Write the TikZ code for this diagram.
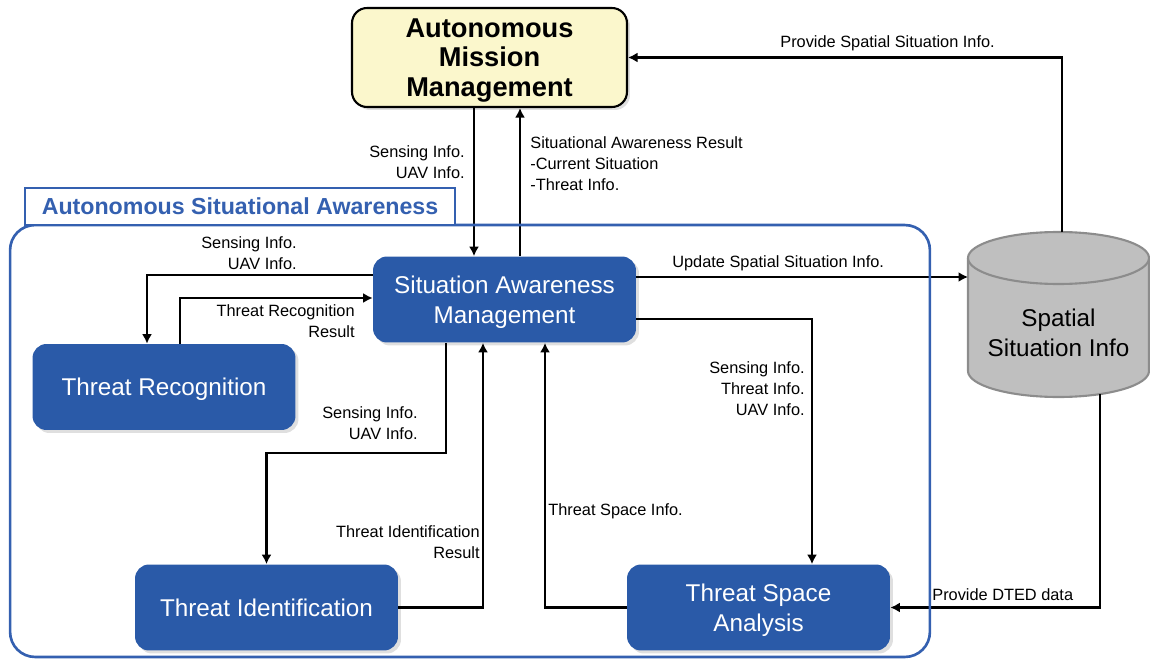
\documentclass[tikz,border=0pt]{standalone}
\usepackage{fontspec}
\setmainfont{Liberation Sans}
\usetikzlibrary{arrows.meta, calc, positioning, shadows}

\definecolor{boxblue}{RGB}{42,90,168}
\definecolor{frameblue}{RGB}{52,96,176}
\definecolor{mgryellow}{RGB}{251,247,204}
\definecolor{dbgray}{RGB}{191,191,191}
\definecolor{dbedge}{RGB}{140,140,140}

\begin{document}
\begin{tikzpicture}
[
	x=0.02cm, y=-0.02cm, >={Latex[length=1.9mm,width=2mm]},
	blk/.style={rectangle,rounded corners=0.28cm,fill=boxblue,text=white,minimum width=5.26cm,minimum height=1.72cm,text depth=0pt,align=center,font=\fontsize{13.8}{17}\selectfont,drop shadow={opacity=0.25,shadow xshift=0.06cm,shadow yshift=-0.06cm}},
	mgr/.style={rectangle,rounded corners=0.3cm,draw,line width=1.2pt,fill=mgryellow,minimum width=5.5cm,minimum height=1.98cm,text depth=-2.8pt,align=center,font=\bfseries\fontsize{15.5}{16.7}\selectfont,drop shadow={opacity=0.25,shadow xshift=0.06cm,shadow yshift=-0.06cm}},
	lbl/.style={inner sep=0,font=\fontsize{9.3}{11.9}\selectfont},
	link/.style={line width=1.3pt,->}
]
\useasboundingbox (0,0) rectangle (1150,659);

% managers and function blocks
\node[mgr] (amm) at (489.5,57.5) {Autonomous\\Mission\\Management};
\node[blk] (sam) at (504.5,299.5) {Situation Awareness\\Management};
\node[blk] (tr) at (164,387) {Threat Recognition};
\node[blk] (ti) at (266.5,607.5) {Threat Identification};
\node[blk] (tsa) at (758.5,607.5) {Threat Space\\Analysis};

% spatial situation database
\filldraw[fill=dbgray,draw=dbedge,line width=1.2pt] (968,258) -- (968,371) arc[start angle=180,end angle=0,x radius=90.5,y radius=26] -- (1149,258);
\filldraw[fill=dbgray,draw=dbedge,line width=1.2pt] (1058.5,258) ellipse[x radius=90.5,y radius=26];
\node[align=center,font=\fontsize{13.8}{17}\selectfont] (db) at (1058.5,333) {Spatial\\Situation Info};
\coordinate (dbtop) at (1062,232);
\coordinate (dbin) at (968,277);
\coordinate (dbout) at (1100,394);

% connectors
\draw[link] (amm.south -| 474,0) -- (sam.north -| 474,0);
\draw[link] (sam.north -| 520,0) -- (amm.south -| 520,0);
\draw[link] (dbtop) |- (amm.east);
\draw[link] (sam.east |- dbin) -- (dbin);
\draw[link] (sam.west |- 0,275) -| (tr.north -| 147,0);
\draw[link] (tr.north -| 180,0) |- (sam.west |- 0,298);
\draw[link] (sam.south -| 446,0) -- ++(0,110) -| (ti.north);
\draw[link] (ti.east) -| (sam.south -| 483,0);
\draw[link] (tsa.west) -| (sam.south -| 545,0);
\draw[link] (sam.east |- 0,319) -| (tsa.north -| 812,0);
\draw[link] (dbout) |- (tsa.east);

% connector labels
\node[lbl,anchor=east,align=right] (l1) at (465,162) {Sensing Info.\\UAV Info.};
\node[lbl,anchor=west,align=left] (l2) at (530,163.5) {Situational Awareness Result\\-Current Situation\\-Threat Info.};
\node[lbl,anchor=west] (l3) at (780,43) {Provide Spatial Situation Info.};
\node[lbl,anchor=west] (l4) at (672,263) {Update Spatial Situation Info.};
\node[lbl,anchor=east,align=right] (l5) at (297,253) {Sensing Info.\\UAV Info.};
\node[lbl,anchor=east,align=right] (l6) at (355,321) {Threat Recognition\\Result};
\node[lbl,anchor=east,align=right] (l7) at (418,423.5) {Sensing Info.\\UAV Info.};
\node[lbl,anchor=east,align=right] (l8) at (480,542.5) {Threat Identification\\Result};
\node[lbl,anchor=west] (l9) at (548,511) {Threat Space Info.};
\node[lbl,anchor=east,align=right] (l10) at (805,388.5) {Sensing Info.\\Threat Info.\\UAV Info.};
\node[lbl,anchor=west] (l11) at (932,595) {Provide DTED data};

% awareness frame and its title
\node[draw=frameblue,line width=1.5pt,rounded corners=0.5cm,minimum width=18.4cm,minimum height=8.64cm] (frame) at (470,441) {};
\node[draw=frameblue,fill=white,line width=1.5pt,minimum width=8.6cm,minimum height=0.74cm,text=frameblue,font=\bfseries\fontsize{13.2}{15}\selectfont] (title) at (240,206.5) {Autonomous Situational Awareness};

\end{tikzpicture}
\end{document}
